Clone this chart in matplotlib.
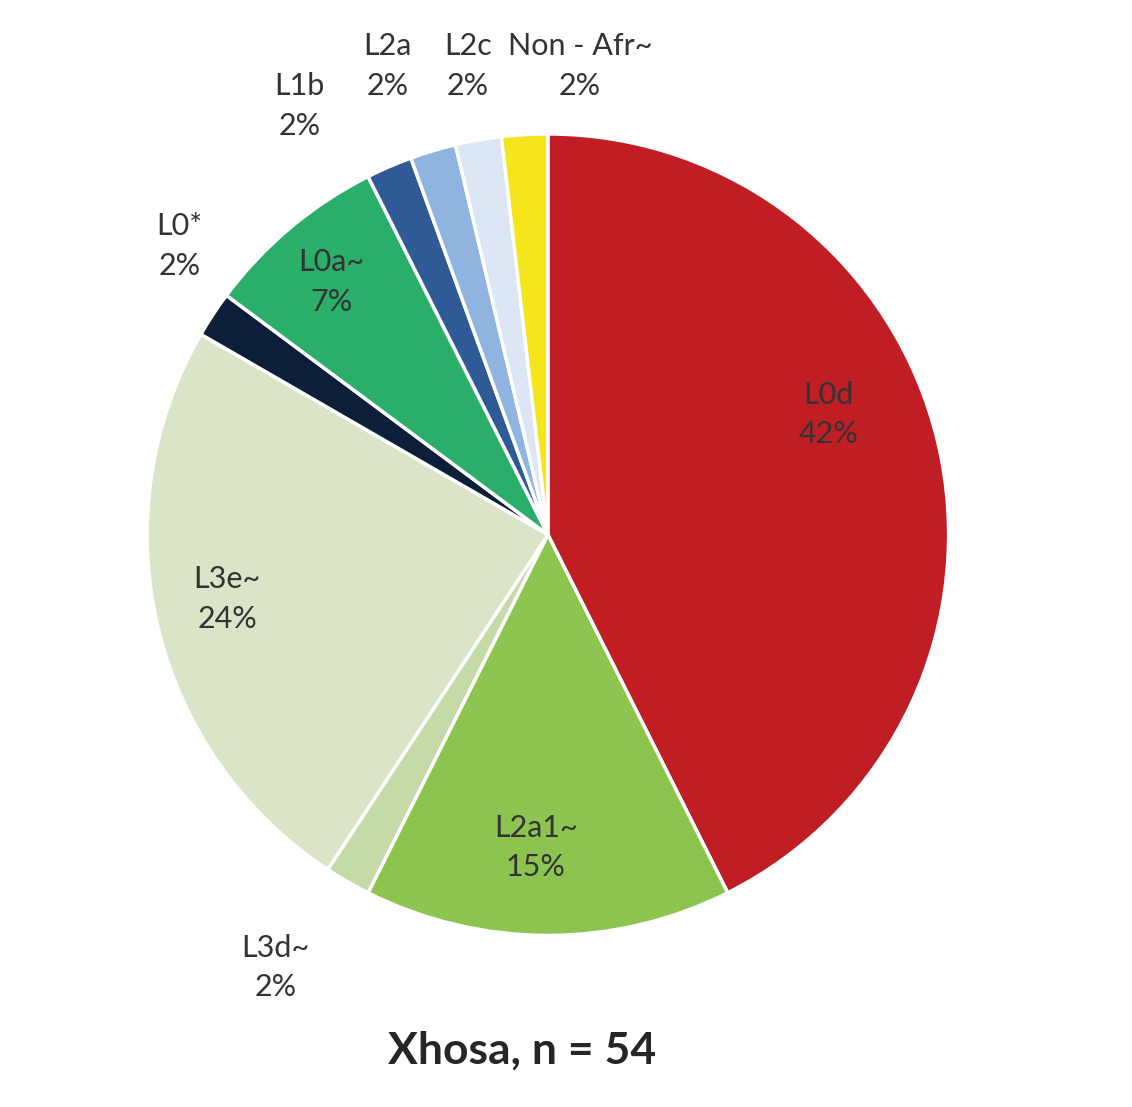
import matplotlib
matplotlib.use('Agg')
import matplotlib.pyplot as plt

plt.rcParams['font.family'] = ['Lato', 'DejaVu Sans']

labels = ['L0d', 'L2a1~', 'L3d~', 'L3e~', 'L0*', 'L0a~', 'L1b', 'L2a', 'L2c', 'Non-Afr~']
counts = [23, 8, 1, 13, 1, 4, 1, 1, 1, 1]
colors = ['#C11D24', '#8DC44F', '#C5DAA6', '#D9E5C6', '#0D1E38', '#2BAE6A',
          '#2F5A96', '#8FB4E0', '#DCE6F4', '#F5E61C']
percent = ['42%', '15%', '2%', '24%', '2%', '7%', '2%', '2%', '2%', '2%']

# label positions (pie units, centre = 0,0, radius = 1)
label_xy = [(0.70, 0.30), (-0.03, -0.78), (-0.68, -1.08), (-0.80, -0.16),
            (-0.92, 0.72), (-0.54, 0.63), (-0.62, 1.07), (-0.40, 1.17),
            (-0.20, 1.17), (0.08, 1.17)]

fig = plt.figure(figsize=(11.32, 11.07), dpi=100)
ax = fig.add_axes([0.130, 0.155, 0.708, 0.724])
ax.pie(counts, colors=colors, startangle=90, counterclock=False,
       wedgeprops=dict(edgecolor='white', linewidth=2.5))
ax.set_xlim(-1, 1)
ax.set_ylim(-1, 1)
ax.set_aspect('auto')

for lab, pct, (x, y) in zip(labels, percent, label_xy):
    ax.text(x, y, lab.replace('-', ' - ') + '\n' + pct, ha='center', va='center',
            fontsize=22, color='#333333', linespacing=1.5, clip_on=False)

fig.text(0.461, 0.051, 'Xhosa, n = 54', ha='center', va='center',
         fontsize=32, fontweight='bold', color='#262626')

fig.savefig('out.png', dpi=100)
